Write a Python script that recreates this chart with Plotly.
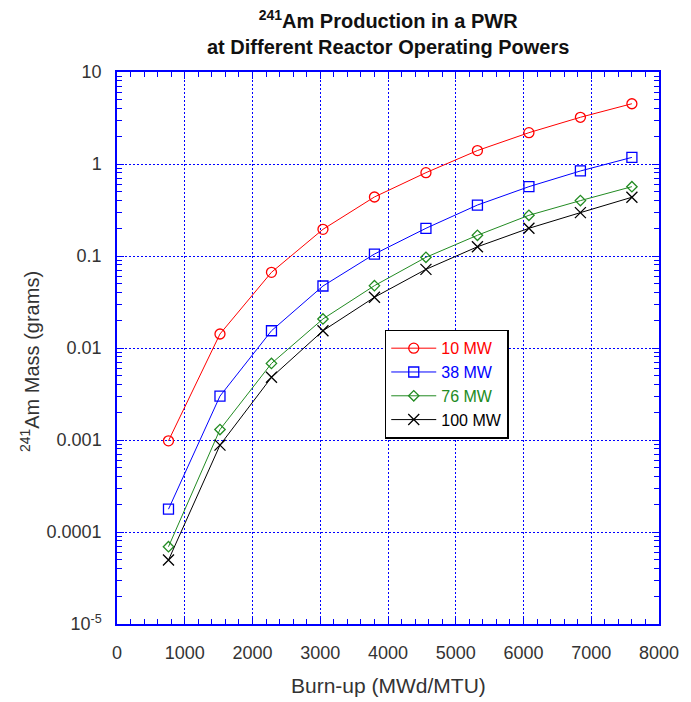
import plotly.graph_objects as go

# Burn-up steps (MWd/MTU)
burnup = [760, 1520, 2280, 3040, 3800, 4560, 5320, 6080, 6840, 7600]

# 241Am mass (grams) for each operating power
am_10mw = [0.00098, 0.0142, 0.0665, 0.195, 0.438, 0.805, 1.40, 2.19, 3.22, 4.52]
am_38mw = [0.000177, 0.0030, 0.0154, 0.0472, 0.105, 0.200, 0.358, 0.567, 0.84, 1.18]
am_76mw = [0.0000692, 0.0013, 0.0068, 0.0207, 0.0476, 0.0968, 0.168, 0.277, 0.40, 0.567]
am_100mw = [0.0000496, 0.00088, 0.0048, 0.0154, 0.0356, 0.0716, 0.126, 0.200, 0.296, 0.435]

series_names = ["10 MW", "38 MW", "76 MW", "100 MW"]
series_values = [am_10mw, am_38mw, am_76mw, am_100mw]

x_ticks = [0, 1000, 2000, 3000, 4000, 5000, 6000, 7000, 8000]
y_ticks = [1e-5, 1e-4, 1e-3, 1e-2, 1e-1, 1, 10]
y_tick_text = ["10<sup>-5</sup>", "0.0001", "0.001", "0.01", "0.1", "1", "10"]

colors = ["#ff0000", "#0000ff", "#228b22", "#000000"]
symbols = ["circle-open", "square-open", "diamond-open", "x-thin-open"]
sizes = [10, 10, 8, 11]

fig = go.Figure()
for name, vals, c, s, sz in zip(series_names, series_values, colors, symbols, sizes):
    fig.add_trace(go.Scatter(
        x=burnup, y=vals, mode="lines+markers",
        name=f"<span style='color:{c}'>{name}</span>",
        line=dict(color=c, width=1),
        marker=dict(symbol=s, size=sz, color=c, line=dict(color=c, width=1.3)),
    ))

axis_blue = "#0000ff"
font_family = "Liberation Sans, Arial, sans-serif"
label_grey = "#333333"

fig.update_layout(
    width=691, height=702,
    margin=dict(l=117, r=23, t=72, b=78),
    paper_bgcolor="white", plot_bgcolor="white",
    font=dict(family=font_family, size=18, color=label_grey),
    legend=dict(
        x=0.494, y=0.533, xanchor="left", yanchor="top",
        bgcolor="white", bordercolor="black", borderwidth=1.5,
        font=dict(family=font_family, size=16),
        tracegroupgap=0, itemwidth=45,
    ),
    showlegend=True,
)

# Two-line title
fig.add_annotation(
    text="<b><sup>241</sup>Am Production in a PWR<br>at Different Reactor Operating Powers</b>",
    xref="paper", yref="paper", x=0.5, y=1.0707, xanchor="center", yanchor="middle",
    showarrow=False, font=dict(family=font_family, size=20, color="#111111"),
)

# Axis titles
fig.add_annotation(
    text="Burn-up (MWd/MTU)",
    xref="paper", yref="paper", x=0.5, y=-0.112, xanchor="center", yanchor="middle",
    showarrow=False, font=dict(family=font_family, size=21, color=label_grey),
)
fig.add_annotation(
    text="<sup>241</sup>Am Mass (grams)", textangle=-90,
    xref="paper", yref="paper", x=-0.16, y=0.475, xanchor="center", yanchor="middle",
    showarrow=False, font=dict(family=font_family, size=20, color=label_grey),
)

fig.update_xaxes(
    range=[0, 8000], tickvals=x_ticks,
    showline=True, linecolor=axis_blue, linewidth=1.5, mirror="ticks",
    ticks="inside", ticklen=7, tickcolor=axis_blue, tickwidth=1,
    showgrid=True, gridcolor=axis_blue, griddash="2px,2px", gridwidth=1,
    minor=dict(ticks="inside", dtick=200, ticklen=5, tickcolor=axis_blue, showgrid=False),
    zeroline=False, ticklabelstandoff=12,
    tickfont=dict(size=18),
)

fig.update_yaxes(
    type="log", range=[-5, 1], tickvals=y_ticks, ticktext=y_tick_text,
    showline=True, linecolor=axis_blue, linewidth=1.5, mirror="ticks",
    ticks="inside", ticklen=7, tickcolor=axis_blue, tickwidth=1,
    showgrid=True, gridcolor=axis_blue, griddash="2px,2px", gridwidth=1,
    minor=dict(ticks="inside", dtick="D1", ticklen=5, tickcolor=axis_blue, showgrid=False),
    zeroline=False, ticklabelstandoff=10,
    tickfont=dict(size=18),
)

fig.write_html("out.html")
